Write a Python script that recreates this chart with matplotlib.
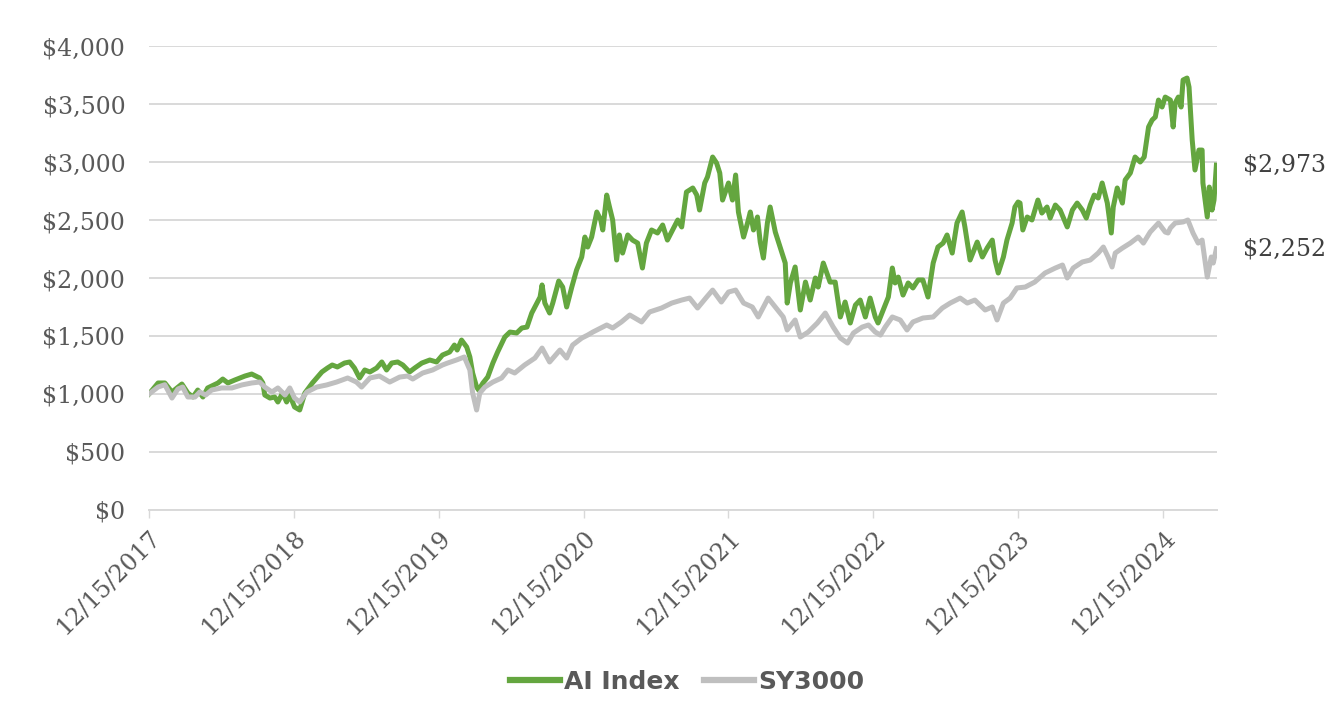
import matplotlib
matplotlib.use("Agg")
import matplotlib.pyplot as plt
import matplotlib.ticker as mticker
import pandas as pd

# AI Index
ai_dates = [
    "2017-12-15", "2018-01-07", "2018-01-24", "2018-02-11", "2018-03-08", "2018-03-23", "2018-04-05",
    "2018-04-17", "2018-04-30", "2018-05-12", "2018-06-07", "2018-06-19", "2018-07-02", "2018-07-19",
    "2018-08-14", "2018-08-31", "2018-09-20", "2018-09-28", "2018-10-03", "2018-10-16", "2018-10-28",
    "2018-11-05", "2018-11-17", "2018-11-27", "2018-12-05", "2018-12-17", "2018-12-30", "2019-01-12",
    "2019-01-31", "2019-02-24", "2019-03-10", "2019-03-22", "2019-04-04", "2019-04-22", "2019-05-05",
    "2019-05-17", "2019-05-30", "2019-06-12", "2019-06-25", "2019-07-12", "2019-07-25", "2019-08-06",
    "2019-08-19", "2019-09-03", "2019-09-16", "2019-10-03", "2019-10-16", "2019-11-03", "2019-11-23",
    "2019-12-10", "2019-12-25", "2020-01-12", "2020-01-24", "2020-01-31", "2020-02-11", "2020-02-24",
    "2020-03-03", "2020-03-10", "2020-03-20", "2020-03-25", "2020-04-05", "2020-04-17", "2020-04-30",
    "2020-05-12", "2020-05-30", "2020-06-12", "2020-06-29", "2020-07-12", "2020-07-25", "2020-08-06",
    "2020-08-14", "2020-08-27", "2020-09-01", "2020-09-08", "2020-09-20", "2020-09-28", "2020-10-13",
    "2020-10-23", "2020-11-02", "2020-11-15", "2020-11-27", "2020-12-10", "2020-12-18", "2020-12-25",
    "2021-01-04", "2021-01-17", "2021-01-27", "2021-02-01", "2021-02-11", "2021-02-18", "2021-02-26",
    "2021-03-08", "2021-03-15", "2021-03-23", "2021-04-05", "2021-04-17", "2021-04-30", "2021-05-12",
    "2021-05-22", "2021-06-04", "2021-06-19", "2021-07-02", "2021-07-14", "2021-07-27", "2021-08-09",
    "2021-08-19", "2021-08-31", "2021-09-16", "2021-09-26", "2021-10-03", "2021-10-16", "2021-10-23",
    "2021-11-05", "2021-11-15", "2021-11-23", "2021-11-30", "2021-12-15", "2021-12-25", "2022-01-02",
    "2022-01-09", "2022-01-22", "2022-02-01", "2022-02-08", "2022-02-16", "2022-02-26", "2022-03-05",
    "2022-03-13", "2022-03-23", "2022-03-30", "2022-04-12", "2022-04-25", "2022-05-07", "2022-05-12",
    "2022-05-20", "2022-06-01", "2022-06-14", "2022-06-27", "2022-07-09", "2022-07-22", "2022-07-29",
    "2022-08-11", "2022-08-28", "2022-09-10", "2022-09-23", "2022-10-05", "2022-10-18", "2022-10-31",
    "2022-11-12", "2022-11-25", "2022-12-07", "2022-12-20", "2022-12-27", "2023-01-09", "2023-01-22",
    "2023-02-01", "2023-02-08", "2023-02-16", "2023-02-28", "2023-03-13", "2023-03-25", "2023-04-07",
    "2023-04-19", "2023-05-02", "2023-05-15", "2023-05-27", "2023-06-09", "2023-06-19", "2023-07-02",
    "2023-07-14", "2023-07-27", "2023-08-03", "2023-08-16", "2023-09-03", "2023-09-16", "2023-09-28",
    "2023-10-11", "2023-10-18", "2023-10-26", "2023-11-08", "2023-11-17", "2023-11-30", "2023-12-07",
    "2023-12-15", "2023-12-20", "2023-12-27", "2024-01-07", "2024-01-19", "2024-02-03", "2024-02-13",
    "2024-02-26", "2024-03-05", "2024-03-18", "2024-03-30", "2024-04-17", "2024-04-30", "2024-05-12",
    "2024-05-25", "2024-06-04", "2024-06-14", "2024-06-24", "2024-07-04", "2024-07-14", "2024-07-27",
    "2024-08-06", "2024-08-11", "2024-08-21", "2024-09-03", "2024-09-10", "2024-09-23", "2024-10-05",
    "2024-10-18", "2024-10-28", "2024-11-08", "2024-11-17", "2024-11-25", "2024-12-03", "2024-12-12",
    "2024-12-20", "2025-01-02", "2025-01-09", "2025-01-14", "2025-01-22", "2025-01-29", "2025-02-03",
    "2025-02-13", "2025-02-18", "2025-02-26", "2025-03-05", "2025-03-15", "2025-03-23", "2025-03-25",
    "2025-04-05", "2025-04-10", "2025-04-17", "2025-04-22", "2025-04-28",
]
ai_values = [
    1000, 1095, 1095, 1017, 1086, 1008, 974,
    1034, 974, 1052, 1095, 1129, 1095, 1120,
    1155, 1172, 1138, 1095, 991, 965, 974,
    931, 1008, 931, 991, 888, 862, 1008,
    1095, 1190, 1224, 1250, 1233, 1267, 1276,
    1224, 1138, 1207, 1190, 1224, 1276, 1207,
    1267, 1276, 1250, 1190, 1224, 1267, 1293,
    1276, 1336, 1362, 1422, 1379, 1465, 1405,
    1319, 1181, 1060, 1034, 1095, 1146, 1267,
    1362, 1491, 1534, 1526, 1569, 1577, 1698,
    1750, 1836, 1940, 1784, 1698, 1784, 1974,
    1922, 1750, 1922, 2069, 2181, 2353, 2267,
    2353, 2569, 2500, 2414, 2715, 2612, 2500,
    2155, 2371, 2215, 2371, 2327, 2301, 2086,
    2301, 2414, 2388, 2457, 2327, 2414, 2500,
    2440, 2741, 2776, 2715, 2586, 2819, 2871,
    3043, 2991, 2905, 2672, 2819, 2672, 2888,
    2569, 2353, 2474, 2569, 2414, 2526, 2310,
    2172, 2474, 2612, 2396, 2258, 2129, 1784,
    1957, 2095, 1724, 1965, 1810, 2000, 1922,
    2129, 1965, 1965, 1664, 1793, 1612, 1767,
    1810, 1664, 1827, 1664, 1612, 1724, 1836,
    2086, 1957, 2008, 1853, 1957, 1914, 1983,
    1983, 1836, 2129, 2267, 2301, 2371, 2215,
    2474, 2569, 2440, 2155, 2310, 2181, 2258,
    2327, 2155, 2043, 2181, 2327, 2474, 2612,
    2655, 2646, 2414, 2526, 2500, 2672, 2560,
    2612, 2517, 2629, 2586, 2440, 2586, 2646,
    2586, 2517, 2629, 2715, 2690, 2819, 2646,
    2388, 2612, 2776, 2646, 2845, 2905, 3043,
    3000, 3043, 3302, 3362, 3388, 3534, 3474,
    3560, 3534, 3302, 3508, 3560, 3474, 3707,
    3724, 3646, 3190, 2931, 3103, 3103, 2819,
    2526, 2784, 2586, 2672, 2973,
]

# SY3000
sy_dates = [
    "2017-12-15", "2018-01-07", "2018-01-24", "2018-02-11", "2018-02-26", "2018-03-10", "2018-03-23",
    "2018-04-10", "2018-04-22", "2018-05-07", "2018-05-22", "2018-06-16", "2018-07-12", "2018-08-06",
    "2018-08-31", "2018-09-20", "2018-10-03", "2018-10-21", "2018-11-05", "2018-11-23", "2018-12-05",
    "2018-12-17", "2018-12-30", "2019-01-17", "2019-02-11", "2019-03-08", "2019-04-02", "2019-04-30",
    "2019-05-22", "2019-06-04", "2019-06-25", "2019-07-19", "2019-08-14", "2019-09-08", "2019-09-28",
    "2019-10-11", "2019-11-05", "2019-11-30", "2019-12-25", "2020-01-07", "2020-01-29", "2020-02-18",
    "2020-03-03", "2020-03-10", "2020-03-20", "2020-03-28", "2020-04-10", "2020-04-30", "2020-05-22",
    "2020-06-07", "2020-06-24", "2020-07-19", "2020-08-14", "2020-09-01", "2020-09-20", "2020-10-16",
    "2020-11-02", "2020-11-17", "2020-12-10", "2020-12-25", "2021-01-07", "2021-02-11", "2021-02-26",
    "2021-03-20", "2021-04-10", "2021-05-10", "2021-05-30", "2021-06-29", "2021-07-25", "2021-08-19",
    "2021-09-08", "2021-09-28", "2021-10-21", "2021-11-05", "2021-11-27", "2021-12-15", "2022-01-02",
    "2022-01-22", "2022-02-13", "2022-02-28", "2022-03-25", "2022-04-12", "2022-05-02", "2022-05-12",
    "2022-06-01", "2022-06-14", "2022-07-04", "2022-07-27", "2022-08-16", "2022-09-05", "2022-09-23",
    "2022-10-11", "2022-10-26", "2022-11-17", "2022-12-03", "2022-12-20", "2023-01-02", "2023-01-14",
    "2023-02-01", "2023-02-21", "2023-03-10", "2023-03-25", "2023-04-19", "2023-05-15", "2023-06-07",
    "2023-06-27", "2023-07-22", "2023-08-09", "2023-08-28", "2023-09-23", "2023-10-11", "2023-10-23",
    "2023-11-08", "2023-11-25", "2023-12-12", "2024-01-02", "2024-01-26", "2024-02-21", "2024-03-18",
    "2024-04-05", "2024-04-17", "2024-05-02", "2024-05-25", "2024-06-14", "2024-07-04", "2024-07-17",
    "2024-07-29", "2024-08-08", "2024-08-16", "2024-09-03", "2024-09-23", "2024-10-13", "2024-10-26",
    "2024-11-12", "2024-12-03", "2024-12-20", "2024-12-27", "2025-01-02", "2025-01-14", "2025-02-03",
    "2025-02-15", "2025-02-28", "2025-03-13", "2025-03-23", "2025-03-30", "2025-04-05", "2025-04-15",
    "2025-04-20", "2025-04-28",
]
sy_values = [
    1000, 1060, 1080, 965, 1043, 1060, 974,
    974, 1017, 991, 1034, 1052, 1052, 1078,
    1095, 1103, 1060, 1017, 1052, 991, 1052,
    965, 931, 1017, 1060, 1078, 1103, 1138,
    1103, 1060, 1138, 1155, 1103, 1146, 1155,
    1129, 1181, 1207, 1250, 1267, 1293, 1319,
    1207, 1008, 862, 1008, 1060, 1103, 1138,
    1207, 1181, 1250, 1310, 1396, 1276, 1379,
    1310, 1422, 1482, 1508, 1534, 1595, 1569,
    1621, 1681, 1621, 1707, 1741, 1784, 1810,
    1827, 1741, 1836, 1896, 1793, 1879, 1896,
    1784, 1750, 1664, 1827, 1750, 1664, 1552,
    1638, 1491, 1534, 1612, 1698, 1577, 1482,
    1439, 1526, 1577, 1595, 1534, 1508, 1577,
    1664, 1638, 1552, 1621, 1655, 1664, 1741,
    1784, 1827, 1784, 1810, 1724, 1750, 1638,
    1784, 1827, 1914, 1922, 1965, 2043, 2086,
    2112, 2000, 2086, 2138, 2155, 2215, 2267,
    2181, 2095, 2215, 2258, 2301, 2353, 2301,
    2396, 2474, 2396, 2388, 2431, 2474, 2483,
    2500, 2388, 2301, 2327, 2155, 2008, 2181,
    2129, 2252,
]

tick_dates = ["2017-12-15", "2018-12-15", "2019-12-15", "2020-12-15",
              "2021-12-15", "2022-12-15", "2023-12-15", "2024-12-15"]
tick_labels = ["12/15/2017", "12/15/2018", "12/15/2019", "12/15/2020",
               "12/15/2021", "12/15/2022", "12/15/2023", "12/15/2024"]

green = "#64A63F"
grey = "#BFBFBF"
txt = "#595959"
gridc = "#D9D9D9"

ai_x = pd.to_datetime(ai_dates)
sy_x = pd.to_datetime(sy_dates)

fig = plt.figure(figsize=(13.42, 7.10), dpi=100)
ax = fig.add_axes([0.111, 0.2817, 0.796, 0.6535])

ax.plot(ai_x, ai_values, color=green, lw=3.6, solid_joinstyle="round", label="AI Index", zorder=3)
ax.plot(sy_x, sy_values, color=grey, lw=3.6, solid_joinstyle="round", label="SY3000", zorder=4)

ax.set_ylim(0, 4000)
ax.set_xlim(pd.Timestamp("2017-12-15"), pd.Timestamp("2025-04-30"))
ax.yaxis.set_major_locator(mticker.MultipleLocator(500))
ax.yaxis.set_major_formatter(mticker.FuncFormatter(lambda v, p: "${:,.0f}".format(v)))
ax.grid(axis="y", color=gridc, lw=1.4)
ax.set_axisbelow(True)

ax.set_xticks(pd.to_datetime(tick_dates))
ax.set_xticklabels(tick_labels, rotation=45, ha="right", va="top", rotation_mode="anchor")

for s in ["top", "right", "left"]:
    ax.spines[s].set_visible(False)
ax.spines["bottom"].set_color(gridc)
ax.spines["bottom"].set_linewidth(1.4)

ax.tick_params(axis="y", length=0, pad=17, labelsize=17, labelcolor=txt)
ax.tick_params(axis="x", length=6, width=1, color=gridc, pad=6, labelsize=17, labelcolor=txt)
for lab in ax.get_xticklabels() + ax.get_yticklabels():
    lab.set_family("DejaVu Serif")

# end labels
ax.annotate("${:,.0f}".format(ai_values[-1]), xy=(ai_x[-1], ai_values[-1]), xytext=(19, 0),
            textcoords="offset points", va="center", ha="left", fontsize=17,
            family="DejaVu Serif", color="#404040", annotation_clip=False)
ax.annotate("${:,.0f}".format(sy_values[-1]), xy=(sy_x[-1], sy_values[-1]), xytext=(19, 0),
            textcoords="offset points", va="center", ha="left", fontsize=17,
            family="DejaVu Serif", color="#404040", annotation_clip=False)

leg = fig.legend(loc="center", bbox_to_anchor=(0.512, 0.04), ncol=2, frameon=False,
                 handlelength=2.0, handletextpad=0.15, columnspacing=1.0,
                 prop={"family": ["Liberation Sans Narrow", "DejaVu Sans"], "weight": "bold", "size": 18})
for t in leg.get_texts():
    t.set_color(txt)
for h in leg.get_lines():
    h.set_linewidth(4.5)

fig.savefig("out.png", dpi=100)
